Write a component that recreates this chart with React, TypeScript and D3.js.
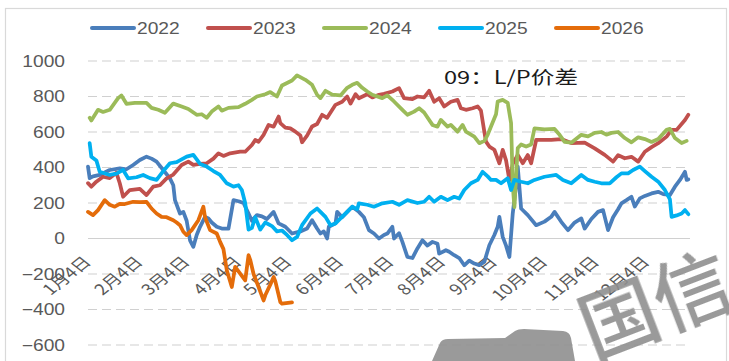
import React from "react";
import * as d3 from "d3";

const W = 729;
const H = 361;

// category axis: trading-day offsets from Jan 4 and their labels
const monthTicks = [0, 31, 59, 90, 120, 151, 181, 212, 243, 273, 304, 334];
const monthLabels = ["1月4日", "2月4日", "3月4日", "4月4日", "5月4日", "6月4日", "7月4日", "8月4日", "9月4日", "10月4日", "11月4日", "12月4日"];
const yTicks = [-600, -400, -200, 0, 200, 400, 600, 800, 1000];

const seriesNames = ["2022", "2023", "2024", "2025", "2026"];
const seriesColors = ["#4A7EBB", "#C0504D", "#9BBB59", "#00B0F0", "#E46C0A"];

// [day offset from Jan 4, spread value]
const s2022: [number, number][] = [
  [0, 405], [1, 340], [3, 350], [7, 358], [13, 386], [19, 395], [23, 390], [27, 414], [31, 442], [35, 461], [38, 450], [41, 433], [45, 386], [49, 339], [51, 300], [52, 216], [55, 141], [57, 150], [59, 100], [61, -10], [63, -47], [65, 20], [67, 66], [70, 122], [72, 113], [74, 90], [77, 66], [80, 56], [84, 56], [87, 216], [90, 210], [93, 200], [96, 141], [98, 100], [101, 132], [104, 125], [107, 110], [111, 150], [114, 85], [118, 66], [122, 28], [127, 40], [131, 56], [134, 103], [137, 56], [139, 28], [141, 40], [143, 0], [144, 66], [148, 85], [149, 150], [152, 120], [155, 150], [158, 179], [162, 150], [165, 120], [168, 47], [171, 28], [174, 0], [177, 20], [179, 28], [182, 66], [183, 0], [186, 30], [188, -19], [191, -104], [194, -110], [197, -56], [200, -10], [203, -40], [206, -19], [209, -30], [210, -85], [214, -66], [216, -75], [219, -94], [222, -110], [225, -151], [228, -125], [231, -141], [234, -150], [237, -132], [240, -38], [243, 20], [245, 66], [246, 122], [248, 9], [250, -40], [252, -104], [254, 141], [256, 300], [257, 405], [259, 169], [263, 132], [268, 75], [273, 95], [277, 122], [279, 150], [283, 94], [287, 47], [291, 90], [295, 113], [297, 56], [301, 110], [305, 150], [308, 160], [311, 47], [314, 120], [317, 165], [319, 198], [322, 216], [325, 235], [327, 180], [330, 226], [333, 240], [337, 254], [341, 263], [344, 250], [348, 245], [351, 292], [354, 330], [357, 376], [358, 330], [359, 333],
];
const s2023: [number, number][] = [
  [0, 312], [2, 292], [5, 320], [9, 348], [13, 340], [17, 370], [19, 311], [21, 235], [25, 273], [31, 280], [35, 245], [39, 292], [43, 300], [47, 339], [51, 360], [56, 414], [60, 433], [63, 415], [67, 420], [71, 424], [75, 450], [78, 480], [81, 465], [85, 480], [91, 489], [94, 489], [98, 527], [100, 555], [102, 545], [105, 584], [108, 640], [111, 630], [114, 687], [115, 650], [118, 625], [121, 620], [124, 602], [127, 580], [128, 542], [131, 580], [134, 631], [137, 645], [140, 697], [143, 680], [148, 753], [152, 770], [155, 800], [157, 760], [160, 813], [162, 790], [167, 813], [170, 795], [174, 810], [177, 815], [182, 828], [186, 847], [189, 791], [194, 785], [197, 800], [201, 795], [204, 832], [207, 770], [210, 790], [213, 744], [217, 770], [221, 781], [223, 734], [226, 725], [230, 734], [233, 744], [235, 720], [237, 602], [238, 546], [240, 518], [243, 500], [246, 424], [248, 499], [250, 440], [252, 329], [254, 420], [257, 471], [260, 424], [263, 470], [265, 424], [268, 555], [277, 555], [283, 560], [289, 538], [297, 540], [303, 508], [309, 471], [314, 433], [317, 470], [321, 452], [325, 460], [329, 433], [333, 489], [337, 515], [341, 537], [346, 574], [349, 612], [352, 612], [357, 668], [359, 697],
];
const s2024: [number, number][] = [
  [1, 680], [2, 665], [6, 725], [9, 713], [13, 725], [18, 791], [20, 806], [23, 759], [28, 764], [35, 764], [38, 736], [42, 725], [46, 708], [51, 760], [56, 744], [60, 730], [65, 697], [68, 700], [71, 680], [74, 715], [78, 744], [80, 720], [84, 736], [90, 740], [94, 759], [98, 781], [101, 800], [106, 813], [109, 825], [113, 800], [116, 862], [119, 876], [122, 890], [125, 919], [130, 894], [134, 866], [137, 810], [139, 791], [142, 832], [146, 810], [151, 806], [155, 849], [158, 866], [161, 877], [164, 849], [167, 828], [170, 810], [176, 791], [179, 806], [183, 772], [188, 725], [191, 697], [195, 715], [198, 734], [201, 710], [206, 640], [209, 630], [211, 668], [215, 630], [217, 640], [221, 602], [224, 640], [226, 602], [231, 574], [234, 537], [237, 550], [239, 584], [241, 631], [244, 700], [245, 772], [248, 781], [251, 764], [253, 650], [254, 300], [255, 177], [256, 350], [257, 510], [259, 530], [262, 518], [265, 530], [267, 621], [273, 615], [279, 617], [282, 584], [285, 544], [289, 540], [295, 584], [299, 575], [303, 595], [307, 600], [310, 585], [313, 595], [317, 600], [321, 566], [325, 542], [329, 570], [333, 560], [337, 544], [341, 560], [346, 612], [348, 618], [351, 566], [355, 538], [358, 550],
];
const s2025: [number, number][] = [
  [1, 537], [2, 461], [5, 440], [7, 376], [13, 358], [17, 365], [21, 386], [24, 339], [29, 345], [33, 358], [37, 340], [41, 330], [45, 380], [49, 424], [53, 430], [59, 461], [63, 471], [67, 420], [71, 405], [75, 380], [79, 358], [83, 311], [87, 292], [90, 300], [92, 273], [94, 200], [96, 50], [98, 60], [100, 120], [103, 50], [106, 90], [110, 70], [113, 40], [116, 45], [119, 20], [122, -10], [125, 9], [128, 75], [133, 141], [137, 169], [139, 150], [142, 122], [145, 75], [148, 85], [151, 113], [155, 150], [158, 179], [161, 165], [162, 198], [167, 190], [171, 179], [176, 198], [182, 207], [186, 190], [191, 216], [197, 200], [201, 207], [204, 235], [207, 207], [211, 235], [215, 216], [219, 235], [222, 225], [225, 273], [229, 311], [233, 330], [236, 376], [239, 350], [241, 330], [244, 330], [247, 311], [251, 340], [253, 273], [255, 330], [259, 320], [263, 311], [267, 330], [273, 348], [280, 358], [284, 330], [289, 311], [295, 358], [299, 330], [303, 320], [307, 311], [312, 311], [316, 345], [319, 367], [323, 367], [326, 386], [330, 405], [333, 380], [337, 348], [341, 320], [345, 273], [348, 220], [349, 122], [352, 130], [355, 141], [357, 160], [359, 137],
];
const s2026: [number, number][] = [
  [0, 150], [3, 132], [6, 160], [10, 216], [13, 190], [16, 179], [19, 195], [22, 194], [27, 207], [31, 205], [35, 207], [38, 169], [41, 141], [44, 122], [47, 120], [51, 103], [53, 90], [55, 75], [57, 38], [59, 19], [62, 47], [66, 103], [69, 179], [70, 120], [73, 47], [77, 28], [79, -19], [81, -60], [83, -179], [86, -273], [88, -160], [91, -198], [94, -236], [96, -94], [97, -120], [99, -200], [102, -273], [105, -349], [106, -320], [109, -260], [111, -217], [112, -240], [115, -358], [116, -367], [122, -360],
];
const seriesData = [s2022, s2023, s2024, s2025, s2026];

const annotation = "09：L/P价差";

const FONT = "'Liberation Sans', Arial, 'Noto Sans CJK SC', sans-serif";
const CJK = "'Noto Sans CJK SC', 'Liberation Sans', sans-serif";

export default function App() {
  const x = d3.scaleLinear().domain([0, 360]).range([88, 690]);
  const y = d3.scaleLinear().domain([-600, 1000]).range([345, 61]);
  const line = d3
    .line<[number, number]>()
    .x((d) => x(d[0]))
    .y((d) => y(d[1]));

  const legendX = d3.scaleLinear().domain([0, 4]).range([92, 556]);

  return (
    <div style={{ position: "absolute", left: 0, top: 0, width: W, height: H, overflow: "hidden", background: "#fff" }}>
      <svg width={W} height={H} style={{ display: "block" }}>
        <rect x={0} y={0} width={W} height={H} fill="#fff" />
        <rect x={5.5} y={8.5} width={721} height={400} fill="#fff" stroke="#D9D9D9" strokeWidth={1.2} />

        {/* grid */}
        {yTicks.map((t) => (
          <line
            key={"g" + t}
            x1={88}
            x2={690}
            y1={y(t)}
            y2={y(t)}
            stroke="#D0D0D0"
            strokeWidth={1.2}
            strokeDasharray={t === 0 ? undefined : "9,5"}
          />
        ))}

        {/* y labels */}
        {yTicks.map((t) => (
          <g key={"yl" + t} transform={`translate(65,${y(t)}) scale(1.2,1)`}>
            <text textAnchor="end" dy="0.36em" fontFamily={FONT} fontSize={16} fill="#595959">
              {t < 0 ? "\u2212" + Math.abs(t) : String(t)}
            </text>
          </g>
        ))}

        {/* x labels */}
        {monthTicks.map((d, i) => (
          <g key={"xl" + d} transform={`translate(${x(d) + 4},263) scale(1.25,1) rotate(-45)`}>
            <text textAnchor="end" fontFamily={CJK} fontSize={15} fill="#595959">
              {monthLabels[i]}
            </text>
          </g>
        ))}

        {/* series */}
        {seriesData.map((s, i) => (
          <path
            key={seriesNames[i]}
            d={line(s) || ""}
            fill="none"
            stroke={seriesColors[i]}
            strokeWidth={3.75}
            strokeLinejoin="round"
            strokeLinecap="round"
          />
        ))}

        {/* annotation */}
        <text x={444} y={84} fontFamily={CJK} fontSize={18} fill="#1a1a1a" textLength={134} lengthAdjust="spacingAndGlyphs">
          {annotation}
        </text>

        {/* legend */}
        {seriesNames.map((n, i) => (
          <g key={"lg" + n} transform={`translate(${legendX(i)},28)`}>
            <line x1={0} x2={42} y1={0} y2={0} stroke={seriesColors[i]} strokeWidth={4} strokeLinecap="round" />
            <g transform="translate(45,0) scale(1.2,1)">
              <text dy="0.36em" fontFamily={FONT} fontSize={16} fill="#595959">
                {n}
              </text>
            </g>
          </g>
        ))}

        {/* watermark */}
        <g opacity={0.9}>
          <path d="M432,361 L440,343 Q442,339 448,339 L505,338 L515,331 Q518,329 524,329 L563,331 Q570,332 571,338 L575,361 Z" fill="#8F8F8F" />
          <g transform="translate(593,360) rotate(-21)">
            <text fontFamily={CJK} fontSize={78} fontWeight={500} fill="#8F8F8F">
              国信
            </text>
          </g>
        </g>
      </svg>
    </div>
  );
}
